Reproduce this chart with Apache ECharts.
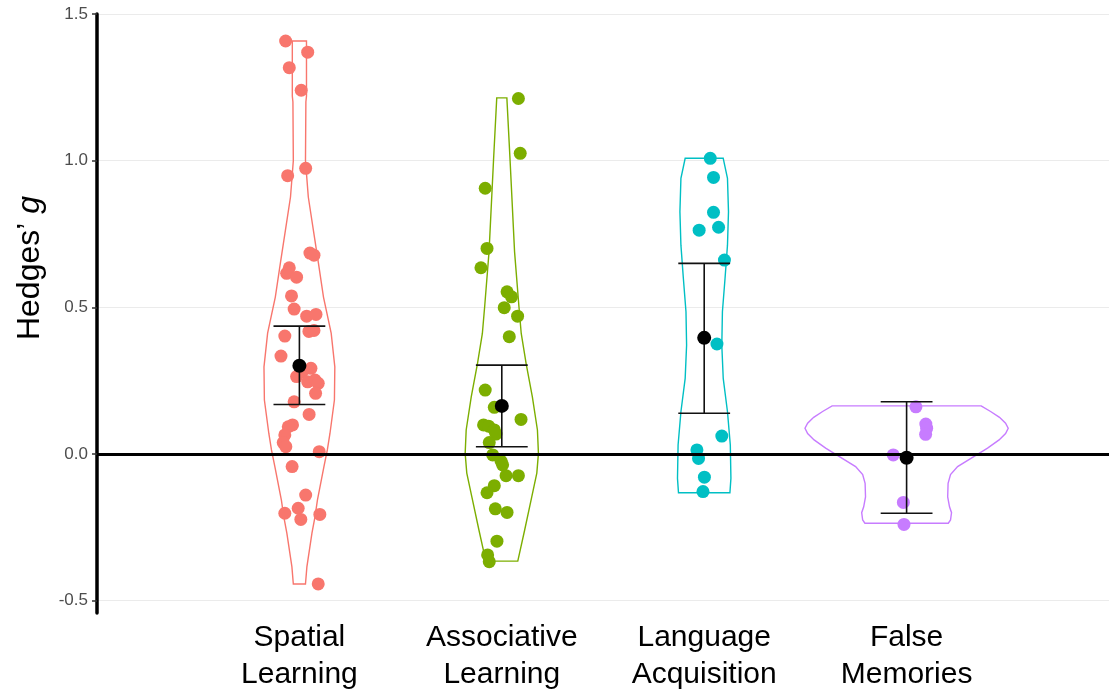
<!DOCTYPE html>
<html lang="en">
<head>
<meta charset="UTF-8">
<title>Hedges' g by domain</title>
<script src="https://cdn.jsdelivr.net/npm/echarts@6/dist/echarts.min.js"></script>
<style>
  html, body { margin: 0; padding: 0; background: #fff; }
  #chart { width: 1114px; height: 698px; }
</style>
</head>
<body>
<div id="chart"></div>
<script>
// categories (x positions 1..4)
const categories = ['Spatial\nLearning', 'Associative\nLearning', 'Language\nAcquisition', 'False\nMemories'];
const yTicks = [-0.5, 0, 0.5, 1.0, 1.5];

// mean and 95% CI per category
const means = [0.301, 0.164, 0.396, -0.013];
const ciLow = [0.169, 0.025, 0.139, -0.202];
const ciHigh = [0.436, 0.303, 0.650, 0.178];

// individual effect sizes (g) and their horizontal jitter (category units)
const spatialG = [1.408, 1.370, 1.317, 1.240, 0.974, 0.949, 0.685, 0.678, 0.635, 0.616, 0.603, 0.539, 0.494, 0.470, 0.476, 0.418, 0.421, 0.402, 0.334, 0.292, 0.280, 0.264, 0.246, 0.252, 0.241, 0.207, 0.178, 0.135, 0.099, 0.093, 0.065, 0.039, 0.025, 0.008, -0.043, -0.140, -0.185, -0.202, -0.223, -0.206, -0.443];
const spatialJit = [-0.068, 0.041, -0.050, 0.009, 0.031, -0.058, 0.052, 0.072, -0.050, -0.063, -0.014, -0.039, -0.026, 0.036, 0.082, 0.047, 0.072, -0.072, -0.091, 0.057, 0.014, -0.014, 0.041, 0.077, 0.093, 0.080, -0.026, 0.048, -0.034, -0.055, -0.072, -0.080, -0.067, 0.098, -0.036, 0.031, -0.006, -0.072, 0.007, 0.101, 0.093];

const associativeG = [1.212, 1.025, 0.906, 0.701, 0.635, 0.553, 0.536, 0.499, 0.470, 0.400, 0.218, 0.159, 0.118, 0.099, 0.095, 0.082, 0.068, 0.039, -0.003, -0.024, -0.037, -0.074, -0.074, -0.108, -0.132, -0.187, -0.199, -0.297, -0.344, -0.367];
const associativeJit = [0.082, 0.091, -0.082, -0.073, -0.103, 0.026, 0.048, 0.012, 0.078, 0.037, -0.082, -0.037, 0.095, -0.090, -0.065, -0.037, -0.029, -0.062, -0.045, -0.004, 0.004, 0.021, 0.082, -0.037, -0.073, -0.032, 0.026, -0.024, -0.070, -0.062];

const languageG = [1.008, 0.943, 0.824, 0.773, 0.763, 0.661, 0.375, 0.061, 0.014, -0.015, -0.079, -0.128];
const languageJit = [0.030, 0.046, 0.046, 0.071, -0.025, 0.100, 0.063, 0.087, -0.036, -0.028, 0.001, -0.006];

const falseMemG = [0.161, 0.102, 0.088, 0.067, -0.003, -0.165, -0.240];
const falseMemJit = [0.046, 0.095, 0.099, 0.094, -0.066, -0.016, -0.013];

// violin outlines: g values and half widths (category units)
const spatialViolinY = [1.408, 1.22, 1.20, 1.0, 0.876, 0.763, 0.651, 0.535, 0.412, 0.297, 0.184, 0.07, 0.014, -0.044, -0.157, -0.214, -0.27, -0.385, -0.443];
const spatialViolinW = [0.035, 0.035, 0.032, 0.030, 0.044, 0.069, 0.094, 0.119, 0.157, 0.175, 0.173, 0.151, 0.138, 0.121, 0.089, 0.077, 0.062, 0.037, 0.030];

const associativeViolinY = [1.214, 1.0, 0.690, 0.508, 0.411, 0.309, 0.195, 0.082, 0.002, -0.065, -0.146, -0.259, -0.365];
const associativeViolinW = [0.025, 0.041, 0.063, 0.084, 0.096, 0.120, 0.151, 0.176, 0.181, 0.173, 0.148, 0.113, 0.079];

const languageViolinY = [1.008, 0.94, 0.826, 0.712, 0.599, 0.485, 0.371, 0.258, 0.144, 0.031, -0.083, -0.132];
const languageViolinW = [0.094, 0.115, 0.120, 0.115, 0.103, 0.090, 0.087, 0.094, 0.115, 0.129, 0.132, 0.127];

const falseMemViolinY = [0.164, 0.145, 0.125, 0.105, 0.088, 0.07, 0.048, 0.02, -0.003, -0.043, -0.07, -0.1, -0.146, -0.18, -0.2, -0.225, -0.236];
const falseMemViolinW = [0.368, 0.415, 0.459, 0.489, 0.502, 0.489, 0.457, 0.400, 0.346, 0.252, 0.217, 0.205, 0.203, 0.212, 0.222, 0.217, 0.206];

const groupColors = ['#F8766D', '#7CAE00', '#00BFC4', '#C77CFF'];
const fontFamily = "'Liberation Sans', Arial, sans-serif";

const groupG = [spatialG, associativeG, languageG, falseMemG];
const groupJit = [spatialJit, associativeJit, languageJit, falseMemJit];
const violinY = [spatialViolinY, associativeViolinY, languageViolinY, falseMemViolinY];
const violinW = [spatialViolinW, associativeViolinW, languageViolinW, falseMemViolinW];

const chart = echarts.init(document.getElementById('chart'));

// violin outline
function renderViolin(params, api) {
  const i = params.dataIndex;
  const cx = api.value(0);
  const ys = violinY[i], ws = violinW[i];
  const pts = [];
  for (let k = 0; k < ys.length; k++) pts.push(api.coord([cx + ws[k], ys[k]]));
  for (let k = ys.length - 1; k >= 0; k--) pts.push(api.coord([cx - ws[k], ys[k]]));
  return {
    type: 'polygon',
    shape: { points: pts },
    style: { fill: 'none', stroke: groupColors[i], lineWidth: 1.4 }
  };
}

// error bar with caps
function renderErrorBar(params, api) {
  const cx = api.value(0);
  const lo = api.value(1), hi = api.value(2);
  const capW = 0.128;
  const top = api.coord([cx, hi]), bot = api.coord([cx, lo]);
  const tl = api.coord([cx - capW, hi]), tr = api.coord([cx + capW, hi]);
  const bl = api.coord([cx - capW, lo]), br = api.coord([cx + capW, lo]);
  const st = { stroke: '#111', lineWidth: 1.6 };
  return {
    type: 'group',
    children: [
      { type: 'line', shape: { x1: top[0], y1: top[1], x2: bot[0], y2: bot[1] }, style: st },
      { type: 'line', shape: { x1: tl[0], y1: tl[1], x2: tr[0], y2: tr[1] }, style: st },
      { type: 'line', shape: { x1: bl[0], y1: bl[1], x2: br[0], y2: br[1] }, style: st }
    ]
  };
}

const series = [];

series.push({
  type: 'custom',
  renderItem: renderViolin,
  data: categories.map((c, i) => [i + 1, 0]),
  silent: true,
  z: 2
});

groupG.forEach((vals, i) => {
  series.push({
    type: 'scatter',
    name: categories[i],
    data: vals.map((v, k) => [i + 1 + groupJit[i][k], v]),
    symbolSize: 13,
    itemStyle: { color: groupColors[i], opacity: 1 },
    z: 3
  });
});

// reference line at zero
series.push({
  type: 'line',
  data: [],
  markLine: {
    silent: true,
    symbol: 'none',
    label: { show: false },
    lineStyle: { color: '#000', width: 3, type: 'solid' },
    data: [{ yAxis: 0 }]
  },
  z: 4
});

series.push({
  type: 'custom',
  renderItem: renderErrorBar,
  data: means.map((m, i) => [i + 1, ciLow[i], ciHigh[i]]),
  silent: true,
  z: 5
});

series.push({
  type: 'scatter',
  data: means.map((m, i) => [i + 1, m]),
  symbolSize: 14,
  itemStyle: { color: '#000', opacity: 1 },
  z: 6
});

const option = {
  animation: false,
  backgroundColor: '#fff',
  grid: { left: 97, right: 5, top: 14, bottom: 85, containLabel: false },
  xAxis: {
    type: 'value',
    min: 0,
    max: 5,
    interval: 1,
    axisLine: { show: false },
    axisTick: { show: false },
    splitLine: { show: false },
    axisLabel: {
      margin: 6,
      color: '#000',
      fontSize: 30,
      lineHeight: 37,
      fontFamily: fontFamily,
      showMinLabel: false,
      showMaxLabel: false,
      formatter: v => (v >= 1 && v <= 4 ? categories[v - 1] : '')
    }
  },
  yAxis: {
    type: 'value',
    min: -0.542,
    max: 1.5,
    axisLine: { show: true, lineStyle: { color: '#000', width: 3.5 } },
    axisTick: { show: true, length: 5, customValues: yTicks, lineStyle: { color: '#333', width: 1.5 } },
    axisLabel: {
      customValues: yTicks,
      margin: 9,
      color: '#4d4d4d',
      fontSize: 17,
      fontFamily: fontFamily,
      formatter: v => v.toFixed(1)
    },
    splitLine: { show: true, lineStyle: { color: '#ebebeb', width: 1.2 } }
  },
  graphic: [{
    type: 'text',
    x: 30,
    y: 268,
    rotation: Math.PI / 2,
    style: {
      text: '{n|Hedges\u2019 }{i|g}',
      align: 'center',
      verticalAlign: 'middle',
      rich: {
        n: { fontSize: 32, fontFamily: fontFamily, fill: '#000' },
        i: { fontSize: 32, fontFamily: fontFamily, fontStyle: 'italic', fill: '#000' }
      }
    }
  }],
  series: series
};

chart.setOption(option);
</script>
</body>
</html>
